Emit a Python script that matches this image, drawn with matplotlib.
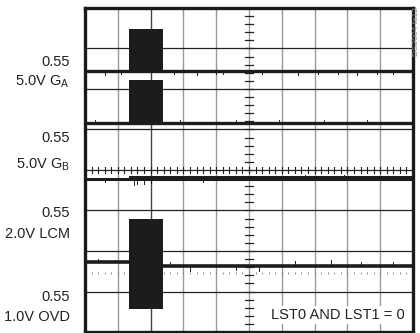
import matplotlib
matplotlib.use("Agg")
import matplotlib.pyplot as plt

plt.rcParams['font.family'] = ['Liberation Sans', 'DejaVu Sans']
plt.rcParams['mathtext.fontset'] = 'custom'
plt.rcParams['mathtext.rm'] = 'Liberation Sans'

# scope screen: 10 x 8 divisions
n_xdiv, n_ydiv = 10, 8

# channel captions (scale / name) on the left
scale_labels = ["0.55", "0.55", "0.55", "0.55"]
chan_labels = [r"5.0V G$_\mathrm{A}$", r"5.0V G$_\mathrm{B}$", "2.0V LCM", "1.0V OVD"]

# burst window (divisions)
burst_start, burst_end = 1.34, 2.38

# trace levels in divisions: baseline before/after burst, burst low/high
ga_base = [6.45, 6.45]
ga_burst = [6.40, 7.49]
gb_base = [5.17, 5.17]
gb_burst = [5.10, 6.21]
lcm_base = [3.79, 3.78]
ovd_base = [1.72, 1.63]
ovd_burst = [0.57, 2.78]

# glitch spikes on the traces: x position, length (div, + up / - down)
ga_spikes_x = [0.6, 1.1, 2.7, 3.4, 4.0, 4.2, 5.4, 6.5, 7.1, 7.7, 8.3, 8.9, 9.4]
ga_spikes_len = [-0.10, -0.08, -0.09, -0.10, -0.08, -0.09, -0.08, -0.10, -0.09, -0.08, -0.10, -0.09, -0.08]
gb_spikes_x = [0.3, 2.9, 4.6, 5.9, 7.3, 8.6]
gb_spikes_len = [0.06, 0.06, 0.07, 0.06, 0.06, 0.07]
lcm_spikes_x = [0.6, 1.5, 1.6, 1.8, 2.0, 3.6, 5.7, 6.7, 7.9]
lcm_spikes_len = [-0.09, -0.14, -0.12, -0.13, -0.10, -0.08, 0.08, 0.10, 0.09]
ovd_spikes_x = [0.4, 0.9, 2.6, 3.2, 4.6, 5.3, 6.4, 7.5, 8.4, 9.4]
ovd_spikes_len = [0.08, 0.07, 0.10, -0.12, -0.10, -0.13, 0.12, 0.14, 0.10, 0.09]

fig = plt.figure(figsize=(4.2, 3.33), dpi=100)
ax = fig.add_axes([85 / 420, 1 / 333, 328 / 420, 324 / 333])
ax.set_xlim(0, n_xdiv)
ax.set_ylim(0, n_ydiv)
ax.set_xticks([])
ax.set_yticks([])
for s in ax.spines.values():
    s.set_linewidth(2.4)
    s.set_color('#1a1a1a')

# graticule
for i in range(1, n_xdiv):
    ax.axvline(i, color='#444444' if i == 2 else '#999999', lw=1.0, zorder=1)
for j in range(1, n_ydiv):
    ax.axhline(j, color='#222222', lw=0.9, zorder=1)

# centre axes with minor ticks
cx, cy = n_xdiv / 2, n_ydiv / 2
for k in range(0, n_ydiv * 5 + 1):
    y = k / 5
    ax.plot([cx - 0.11, cx + 0.11], [y, y], color='#222222', lw=0.9, zorder=1)
for k in range(0, n_xdiv * 5 + 1):
    x = k / 5
    ax.plot([x, x], [cy - 0.07, cy + 0.07], color='#222222', lw=0.8, zorder=1)
    ax.plot(x, 1.45, marker='|', ms=1.6, color='#777777', mew=0.6, zorder=1)

tc = '#1c1c1c'


def trace(base, burst, spikes_x, spikes_len, lw=2.4):
    ax.plot([0, burst_start], [base[0]] * 2, color=tc, lw=lw, solid_capstyle='butt', zorder=3)
    ax.plot([burst_start, n_xdiv], [base[1]] * 2, color=tc, lw=lw, solid_capstyle='butt', zorder=3)
    if burst is not None:
        ax.fill_between([burst_start, burst_end], burst[0], burst[1], color=tc, lw=0, zorder=3)
    for x, ln in zip(spikes_x, spikes_len):
        y0 = base[0] if x < burst_start else base[1]
        ax.plot([x, x], [y0, y0 + ln], color=tc, lw=0.7, zorder=3)


trace(ga_base, ga_burst, ga_spikes_x, ga_spikes_len)
trace(gb_base, gb_burst, gb_spikes_x, gb_spikes_len)
trace(lcm_base, None, lcm_spikes_x, lcm_spikes_len, lw=2.2)
ax.fill_between([burst_start, n_xdiv], lcm_base[1] - 0.06, lcm_base[1] + 0.06, color=tc, lw=0, zorder=3)
trace(ovd_base, ovd_burst, ovd_spikes_x, ovd_spikes_len, lw=2.6)

# left captions
scale_y = [6.67, 4.80, 2.93, 0.86]
name_y = [6.18, 4.12, 2.41, 0.37]
for s, n, ys, yn in zip(scale_labels, chan_labels, scale_y, name_y):
    ax.text(-0.46, ys, s, ha='right', va='center', fontsize=10.5, color='#222222', clip_on=False)
    ax.text(-0.46, yn, n, ha='right', va='center', fontsize=10.5, color='#222222', clip_on=False)

ax.text(9.75, 0.42, "LST0 AND LST1 = 0", ha='right', va='center', fontsize=10.5, color='#222222',
        bbox=dict(facecolor='white', edgecolor='none', pad=1.5), zorder=5)

fig.text(417 / 420, 1 - 32 / 333, "DS2004 fa12", rotation=90, ha='center', va='center',
         fontsize=6, color='#888888')

fig.savefig("out.png", dpi=100)
